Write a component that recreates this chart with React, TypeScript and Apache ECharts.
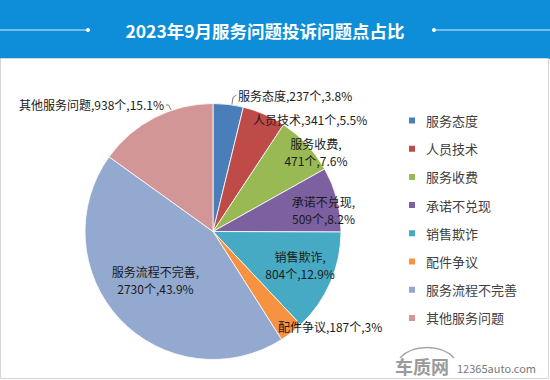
import React, { useEffect, useRef } from "react";
import * as echarts from "echarts";

const TITLE = "2023年9月服务问题投诉问题点占比";
const NAMES = ["服务态度", "人员技术", "服务收费", "承诺不兑现", "销售欺诈", "配件争议", "服务流程不完善", "其他服务问题"];
const COUNTS = [237, 341, 471, 509, 804, 187, 2730, 938];
const UNIT = "个";
const COLORS = ["#4A7EBB", "#BE4B48", "#98B954", "#7D60A0", "#46AAC5", "#F69240", "#93A9CF", "#D29696"];

// label placement styling (relative to each slice's mid-angle, radius factor)
const LABEL_STYLE = [
  { da: 3.5, r: 1.084, align: "left", wrap: false, lineDa: 1.6 },
  { da: -3.9, r: 0.926, align: "left", wrap: false },
  { da: 5.4, r: 1.014, align: "center", wrap: true },
  { da: 3.7, r: 0.879, align: "center", wrap: true },
  { da: -2.2, r: 0.73, align: "center", wrap: true },
  { da: 3.6, r: 0.902, align: "left", wrap: false },
  { da: 3.0, r: 0.59, align: "center", wrap: true },
  { da: 6.0, r: 1.06, align: "right", wrap: false, lineDa: 8.2 },
];

const CX = 213;
const CY = 231.5;
const R = 128;
const FONT = '"Noto Sans CJK SC", "Microsoft YaHei", sans-serif';

export default function App() {
  const ref = useRef<HTMLDivElement>(null);
  useEffect(() => {
    if (!ref.current) return;
    const chart = echarts.init(ref.current, undefined, { renderer: "svg" });
    const total = COUNTS.reduce((a, b) => a + b, 0);
    const mids: number[] = [];
    let acc = 0;
    COUNTS.forEach((v) => {
      mids.push(((acc + v / 2) / total) * 360);
      acc += v;
    });
    const polar = (deg: number, r: number) => {
      const t = (deg * Math.PI) / 180;
      return [CX + r * Math.sin(t), CY - r * Math.cos(t)];
    };
    const pct = (v: number) => String(Math.round((v / total) * 1000) / 10);

    const data = NAMES.map((name, i) => {
      const st = LABEL_STYLE[i];
      const outside = st.lineDa != null;
      return {
        name,
        value: COUNTS[i],
        itemStyle: { color: COLORS[i] },
        label: {
          position: outside ? "outside" : "inside",
          formatter: `${name},${st.wrap ? "\n" : ""}${COUNTS[i]}${UNIT},${pct(COUNTS[i])}%`,
        },
        labelLine: { show: outside },
      };
    });

    chart.setOption({
      animation: false,
      graphic: [
        { type: "rect", shape: { x: 0, y: 0, width: 550, height: 59 }, style: { fill: "#0E8ED8" }, silent: true },
        { type: "rect", shape: { x: 0.5, y: 58.5, width: 548, height: 320 }, style: { fill: "none", stroke: "#D4D4D4", lineWidth: 1 }, silent: true },
        { type: "line", shape: { x1: 0, y1: 30, x2: 88, y2: 30 }, style: { stroke: "rgba(255,255,255,0.85)", lineWidth: 1 } },
        { type: "circle", shape: { cx: 88, cy: 30, r: 2 }, style: { fill: "#fff" } },
        { type: "line", shape: { x1: 434, y1: 30, x2: 550, y2: 30 }, style: { stroke: "rgba(255,255,255,0.85)", lineWidth: 1 } },
        { type: "circle", shape: { cx: 434, cy: 30, r: 2 }, style: { fill: "#fff" } },
        {
          type: "text",
          x: 265,
          y: 30,
          style: { text: TITLE, fill: "#fff", font: `bold 17.5px ${FONT}`, textAlign: "center", textVerticalAlign: "middle" },
        },
        {
          type: "bezierCurve",
          shape: { x1: 400, y1: 358, x2: 454, y2: 358, cpx1: 412, cpy1: 344, cpx2: 442, cpy2: 344 },
          style: { stroke: "#A8A8A8", lineWidth: 1.5, fill: "none" },
        },
        {
          type: "text",
          x: 395,
          y: 366,
          style: { text: "车质网", fill: "#9A9A9A", font: `bold 18px ${FONT}`, textAlign: "left", textVerticalAlign: "middle" },
        },
        {
          type: "text",
          x: 457,
          y: 368,
          style: { text: "12365auto.com", fill: "#7A7A7A", font: `11px ${FONT}`, textAlign: "left", textVerticalAlign: "middle" },
        },
      ],
      legend: {
        orient: "vertical",
        left: 402,
        top: 108.5,
        icon: "rect",
        itemWidth: 8,
        itemHeight: 8,
        itemGap: 14.2,
        data: NAMES,
        textStyle: { fontSize: 13, lineHeight: 14, color: "#404040", fontFamily: FONT, padding: [0, 0, 0, 5] },
      },
      series: [
        {
          type: "pie",
          center: [CX, CY],
          radius: R,
          startAngle: 90,
          clockwise: true,
          avoidLabelOverlap: false,
          itemStyle: { borderColor: "#ffffff", borderWidth: 0.8 },
          label: { show: true, fontSize: 12, lineHeight: 17, color: "#1A1A1A", fontFamily: FONT },
          labelLine: { lineStyle: { color: "#7F7F7F", width: 1 } },
          labelLayout: (params: any) => {
            const i = params.dataIndex;
            const st = LABEL_STYLE[i];
            const [x, y] = polar(mids[i] + st.da, R * st.r);
            const res: any = { x, y, align: st.align, verticalAlign: "middle" };
            if (st.lineDa != null) {
              const edge = polar(mids[i] + st.lineDa, R);
              if (st.align === "left") {
                const mid = polar(mids[i] + st.lineDa, R + 7.5);
                res.labelLinePoints = [edge, mid, [x - 1.5, y]];
              } else {
                res.labelLinePoints = [[x + 2, y], [x + 4.5, y], edge];
              }
            }
            return res;
          },
          data,
        },
      ],
    });
    return () => chart.dispose();
  }, []);
  return <div ref={ref} style={{ position: "fixed", left: 0, top: 0, width: 550, height: 380, background: "#fff" }} />;
}
